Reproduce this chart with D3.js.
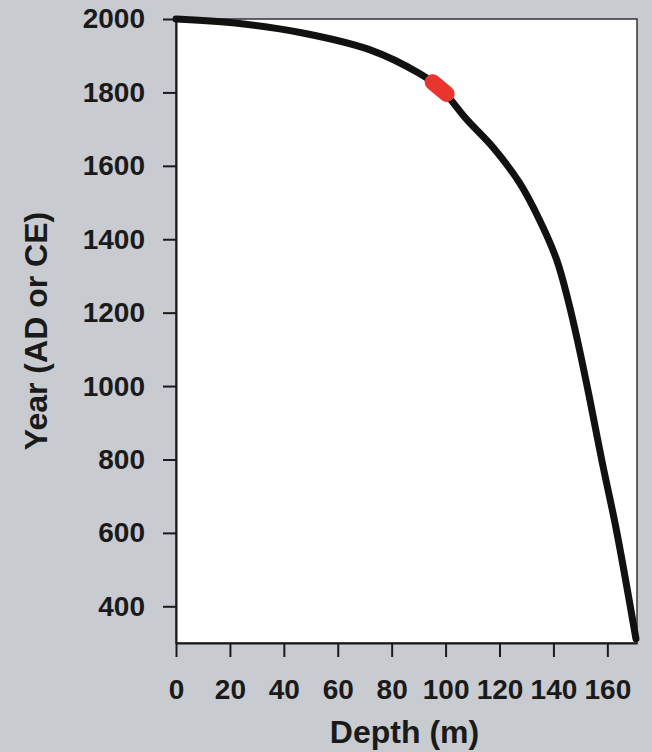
<!DOCTYPE html>
<html>
<head>
<meta charset="utf-8">
<script src="https://cdn.jsdelivr.net/npm/d3@7"></script>
<style>
  html, body { margin: 0; padding: 0; background: #c8cbd0; }
  svg { display: block; }
  text { font-family: "Liberation Sans", Arial, sans-serif; font-weight: bold; fill: #1a1a1a; }
</style>
</head>
<body>
<div id="chart"></div>
<script>
// depth (m) vs year
const depth = [0, 22, 47, 72, 90, 98, 108, 117.4, 127.4, 134.8, 141.2, 145.4, 148.6, 153.3, 158.1, 163.3, 170.6];
const year  = [2000, 1989, 1962, 1916, 1853, 1812, 1725, 1652, 1554, 1453, 1344, 1235, 1135, 971, 792, 610, 312];

// red marker segment
const markDepth = [95.2, 100.4];
const markYear  = [1828, 1796];

const xTicks = [0, 20, 40, 60, 80, 100, 120, 140, 160];
const yTicks = [400, 600, 800, 1000, 1200, 1400, 1600, 1800, 2000];

const WIDTH = 652, HEIGHT = 752;
const L = 176, R = 637, T = 19, B = 643;

const svg = d3.select("#chart")
                .append("svg")
                  .attr("width", WIDTH)
                  .attr("height", HEIGHT);

const x = d3.scaleLinear().domain([0, 171]).range([L, R]);
const y = d3.scaleLinear().domain([300, 2000]).range([B, T]);

// plot area
svg.append("rect")
    .attr("x", L).attr("y", T)
    .attr("width", R - L).attr("height", B - T)
    .attr("fill", "white")
    .attr("stroke", "#333")
    .attr("stroke-width", 1.5);

const yAxis = svg.append("g")
    .attr("transform", `translate(${L}, 0)`)
    .call(d3.axisLeft(y).tickValues(yTicks).tickFormat(d3.format("d"))
            .tickSize(13).tickPadding(18).tickSizeOuter(0));

const xAxis = svg.append("g")
    .attr("transform", `translate(0, ${B})`)
    .call(d3.axisBottom(x).tickValues(xTicks).tickFormat(d3.format("d"))
            .tickSize(14).tickPadding(22).tickSizeOuter(0));

[yAxis, xAxis].forEach(g => {
    g.select(".domain").attr("stroke", "#1a1a1a").attr("stroke-width", 2);
    g.selectAll(".tick line").attr("stroke", "#1a1a1a").attr("stroke-width", 2);
    g.selectAll(".tick text")
        .attr("fill", "#1a1a1a")
        .style("font-size", "28px")
        .style("font-family", "'Liberation Sans', Arial, sans-serif")
        .style("font-weight", "bold");
});

const pts = depth.map((d, i) => [d, year[i]]);
const line = d3.line()
    .x(d => x(d[0]))
    .y(d => y(d[1]))
    .curve(d3.curveCatmullRom);

svg.append("path")
    .datum(pts)
    .attr("d", line)
    .attr("fill", "none")
    .attr("stroke", "#111")
    .attr("stroke-width", 7)
    .attr("stroke-linecap", "round")
    .attr("stroke-linejoin", "round");

svg.append("path")
    .datum(markDepth.map((d, i) => [d, markYear[i]]))
    .attr("d", d3.line().x(d => x(d[0])).y(d => y(d[1])))
    .attr("fill", "none")
    .attr("stroke", "#e8352e")
    .attr("stroke-width", 16)
    .attr("stroke-linecap", "round");

// axis titles
svg.append("text")
    .attr("x", (L + R) / 2 - 2)
    .attr("y", 743)
    .attr("text-anchor", "middle")
    .style("font-size", "32px")
    .text("Depth (m)");

svg.append("text")
    .attr("transform", "translate(47, 331) rotate(-90)")
    .attr("text-anchor", "middle")
    .style("font-size", "32px")
    .text("Year (AD or CE)");
</script>
</body>
</html>
